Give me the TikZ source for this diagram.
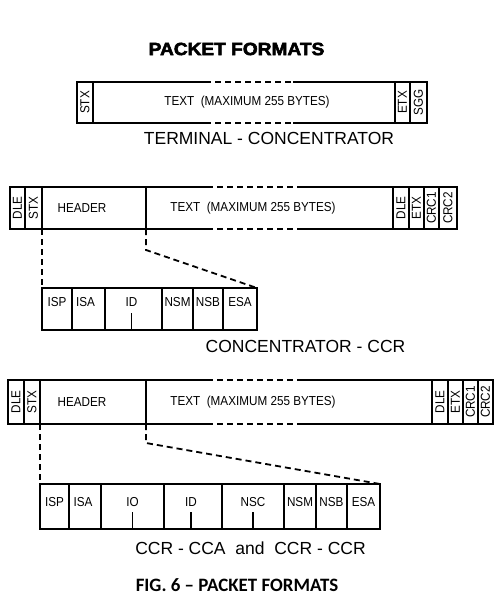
\documentclass[tikz,border=0pt]{standalone}
\usepackage{fontspec}
\setmainfont{Liberation Sans}
\newfontfamily\cellfont{Liberation Sans}[FakeStretch=0.9]
\newfontfamily\titlefont{Liberation Sans}[BoldFeatures={FakeBold=3,FakeStretch=1.08}]
\newfontfamily\capfont{Carlito}
\begin{document}
\begin{tikzpicture}[x=1pt,y=-1pt,line width=1.8pt,
  cellbox/.style={draw,rectangle,inner sep=0pt,outer sep=0pt},
  gapbox/.style={rectangle,inner sep=0pt,outer sep=0pt},
  lbl/.style={inner sep=0pt,font=\cellfont\fontsize{13}{13}\selectfont},
  rlbl/.style={lbl,rotate=90},
  dsh/.style={dash pattern=on 6pt off 4pt},
  heading/.style={inner sep=0pt,font=\fontsize{17.5}{17.5}\selectfont}]
\useasboundingbox (0,0) rectangle (500,600);
\fill[white] (0,0) rectangle (500,600);

\node[inner sep=0pt,font=\titlefont\bfseries\fontsize{17.7}{17.7}\selectfont] (title) at (236.5,49) {PACKET FORMATS};

% ---------- row 1: terminal - concentrator
\node[cellbox,minimum width=16pt,minimum height=41pt] (r1stx) at (85,102.5) {};
\node[gapbox,minimum width=302pt,minimum height=41pt] (r1text) at (244,102.5) {};
\node[cellbox,minimum width=15pt,minimum height=41pt] (r1etx) at (402.5,102.5) {};
\node[cellbox,minimum width=17pt,minimum height=41pt] (r1sgg) at (418.5,102.5) {};
\node[rlbl] (r1stxl) at (r1stx) {STX};
\node[rlbl] (r1etxl) at (r1etx) {ETX};
\node[rlbl] (r1sggl) at (r1sgg) {SGG};
\node[lbl] (r1textl) at (247,102.5) {TEXT\ \ (MAXIMUM 255 BYTES)};
\draw (r1text.north west) -- ([xshift=112pt]r1text.north west);
\draw[dsh] ([xshift=112pt]r1text.north west) -- ([xshift=200pt]r1text.north west);
\draw ([xshift=200pt]r1text.north west) -- (r1text.north east);
\draw (r1text.south west) -- ([xshift=112pt]r1text.south west);
\draw[dsh] ([xshift=112pt]r1text.south west) -- ([xshift=200pt]r1text.south west);
\draw ([xshift=200pt]r1text.south west) -- (r1text.south east);
\node[heading] (h1) at (269,138) {TERMINAL - CONCENTRATOR};

% ---------- row 2: concentrator - CCR
\node[cellbox,minimum width=15pt,minimum height=42pt] (r2dle) at (17.5,208) {};
\node[cellbox,minimum width=17pt,minimum height=42pt] (r2stx) at (33.5,208) {};
\node[cellbox,minimum width=104pt,minimum height=42pt] (r2hdr) at (94,208) {};
\node[gapbox,minimum width=247pt,minimum height=42pt] (r2text) at (269.5,208) {};
\node[cellbox,minimum width=16pt,minimum height=42pt] (r2dleb) at (401,208) {};
\node[cellbox,minimum width=15pt,minimum height=42pt] (r2etx) at (416.5,208) {};
\node[cellbox,minimum width=15pt,minimum height=42pt] (r2crca) at (431.5,208) {};
\node[cellbox,minimum width=18pt,minimum height=42pt] (r2crcb) at (448,208) {};
\node[rlbl] (r2dlel) at (r2dle) {DLE};
\node[rlbl] (r2stxl) at (r2stx) {STX};
\node[rlbl] (r2dlebl) at (r2dleb) {DLE};
\node[rlbl] (r2etxl) at (r2etx) {ETX};
\node[rlbl] (r2crcal) at (r2crca) {CRC1};
\node[rlbl] (r2crcbl) at (r2crcb) {CRC2};
\node[lbl] (r2hdrl) at (82,208) {HEADER};
\node[lbl] (r2textl) at (253,208) {TEXT\ \ (MAXIMUM 255 BYTES)};
\draw (r2text.north west) -- ([xshift=61pt]r2text.north west);
\draw[dsh] ([xshift=61pt]r2text.north west) -- ([xshift=154pt]r2text.north west);
\draw ([xshift=154pt]r2text.north west) -- (r2text.north east);
\draw (r2text.south west) -- ([xshift=61pt]r2text.south west);
\draw[dsh] ([xshift=61pt]r2text.south west) -- ([xshift=154pt]r2text.south west);
\draw ([xshift=154pt]r2text.south west) -- (r2text.south east);

% header detail (row 2)
\node[cellbox,minimum width=30pt,minimum height=42pt] (s2isp) at (57,309) {};
\node[cellbox,minimum width=33pt,minimum height=42pt] (s2isa) at (88.5,309) {};
\node[cellbox,minimum width=57pt,minimum height=42pt] (s2id) at (133.5,309) {};
\node[cellbox,minimum width=31pt,minimum height=42pt] (s2nsm) at (177.5,309) {};
\node[cellbox,minimum width=30pt,minimum height=42pt] (s2nsb) at (208,309) {};
\node[cellbox,minimum width=34pt,minimum height=42pt] (s2esa) at (240,309) {};
\node[lbl] (s2ispl) at ([yshift=7pt]s2isp) {ISP};
\node[lbl] (s2isal) at ([xshift=-3pt,yshift=7pt]s2isa) {ISA};
\node[lbl] (s2idl) at ([xshift=-2pt,yshift=7pt]s2id) {ID};
\node[lbl] (s2nsml) at ([yshift=7pt]s2nsm) {NSM};
\node[lbl] (s2nsbl) at ([yshift=7pt]s2nsb) {NSB};
\node[lbl] (s2esal) at ([yshift=7pt]s2esa) {ESA};
\draw ([xshift=-2pt]s2id.south) -- ++(0,-17);
\draw[dsh] (r2hdr.south west) -- (s2isp.north west);
\draw[dsh] (r2hdr.south east) -- ++(0,21) -- (s2esa.north east);
\node[heading] (h2) at (305.5,346) {CONCENTRATOR - CCR};

% ---------- row 3: CCR - CCA and CCR - CCR
\node[cellbox,minimum width=16pt,minimum height=44pt] (r3dle) at (16,402) {};
\node[cellbox,minimum width=16pt,minimum height=44pt] (r3stx) at (32,402) {};
\node[cellbox,minimum width=106pt,minimum height=44pt] (r3hdr) at (93,402) {};
\node[gapbox,minimum width=286pt,minimum height=44pt] (r3text) at (289,402) {};
\node[cellbox,minimum width=16pt,minimum height=44pt] (r3dleb) at (440,402) {};
\node[cellbox,minimum width=15pt,minimum height=44pt] (r3etx) at (455.5,402) {};
\node[cellbox,minimum width=15pt,minimum height=44pt] (r3crca) at (470.5,402) {};
\node[cellbox,minimum width=15pt,minimum height=44pt] (r3crcb) at (485.5,402) {};
\node[rlbl] (r3dlel) at (r3dle) {DLE};
\node[rlbl] (r3stxl) at (r3stx) {STX};
\node[rlbl] (r3dlebl) at (r3dleb) {DLE};
\node[rlbl] (r3etxl) at (r3etx) {ETX};
\node[rlbl] (r3crcal) at (r3crca) {CRC1};
\node[rlbl] (r3crcbl) at (r3crcb) {CRC2};
\node[lbl] (r3hdrl) at (82,402) {HEADER};
\node[lbl] (r3textl) at (253,402) {TEXT\ \ (MAXIMUM 255 BYTES)};
\draw (r3text.north west) -- ([xshift=61pt]r3text.north west);
\draw[dsh] ([xshift=61pt]r3text.north west) -- ([xshift=154pt]r3text.north west);
\draw ([xshift=154pt]r3text.north west) -- (r3text.north east);
\draw (r3text.south west) -- ([xshift=61pt]r3text.south west);
\draw[dsh] ([xshift=61pt]r3text.south west) -- ([xshift=154pt]r3text.south west);
\draw ([xshift=154pt]r3text.south west) -- (r3text.south east);

% header detail (row 3)
\node[cellbox,minimum width=29pt,minimum height=45pt] (s3isp) at (54.5,506.5) {};
\node[cellbox,minimum width=32pt,minimum height=45pt] (s3isa) at (85,506.5) {};
\node[cellbox,minimum width=63pt,minimum height=45pt] (s3io) at (132.5,506.5) {};
\node[cellbox,minimum width=58pt,minimum height=45pt] (s3id) at (193,506.5) {};
\node[cellbox,minimum width=62pt,minimum height=45pt] (s3nsc) at (253,506.5) {};
\node[cellbox,minimum width=32pt,minimum height=45pt] (s3nsm) at (300,506.5) {};
\node[cellbox,minimum width=31pt,minimum height=45pt] (s3nsb) at (331.5,506.5) {};
\node[cellbox,minimum width=33pt,minimum height=45pt] (s3esa) at (363.5,506.5) {};
\node[lbl] (s3ispl) at ([yshift=4pt]s3isp) {ISP};
\node[lbl] (s3isal) at ([xshift=-2pt,yshift=4pt]s3isa) {ISA};
\node[lbl] (s3iol) at ([yshift=4pt]s3io) {IO};
\node[lbl] (s3idl) at ([xshift=-2pt,yshift=4pt]s3id) {ID};
\node[lbl] (s3nscl) at ([yshift=4pt]s3nsc) {NSC};
\node[lbl] (s3nsml) at ([yshift=4pt]s3nsm) {NSM};
\node[lbl] (s3nsbl) at ([yshift=4pt]s3nsb) {NSB};
\node[lbl] (s3esal) at ([yshift=4pt]s3esa) {ESA};
\draw (s3io.south) -- ++(0,-17);
\draw ([xshift=-2pt]s3id.south) -- ++(0,-17);
\draw (s3nsc.south) -- ++(0,-17);
\draw[dsh] (r3hdr.south west) -- (s3isp.north west);
\draw[dsh] (r3hdr.south east) -- ++(0,19) -- (s3esa.north east);
\node[heading] (h3) at (250.5,548) {CCR - CCA\ \ and\ \ CCR - CCR};

\node[inner sep=0pt,font=\capfont\bfseries\fontsize{18.9}{18.9}\selectfont] (cap) at (237,585) {FIG. 6 – PACKET FORMATS};
\end{tikzpicture}
\end{document}
